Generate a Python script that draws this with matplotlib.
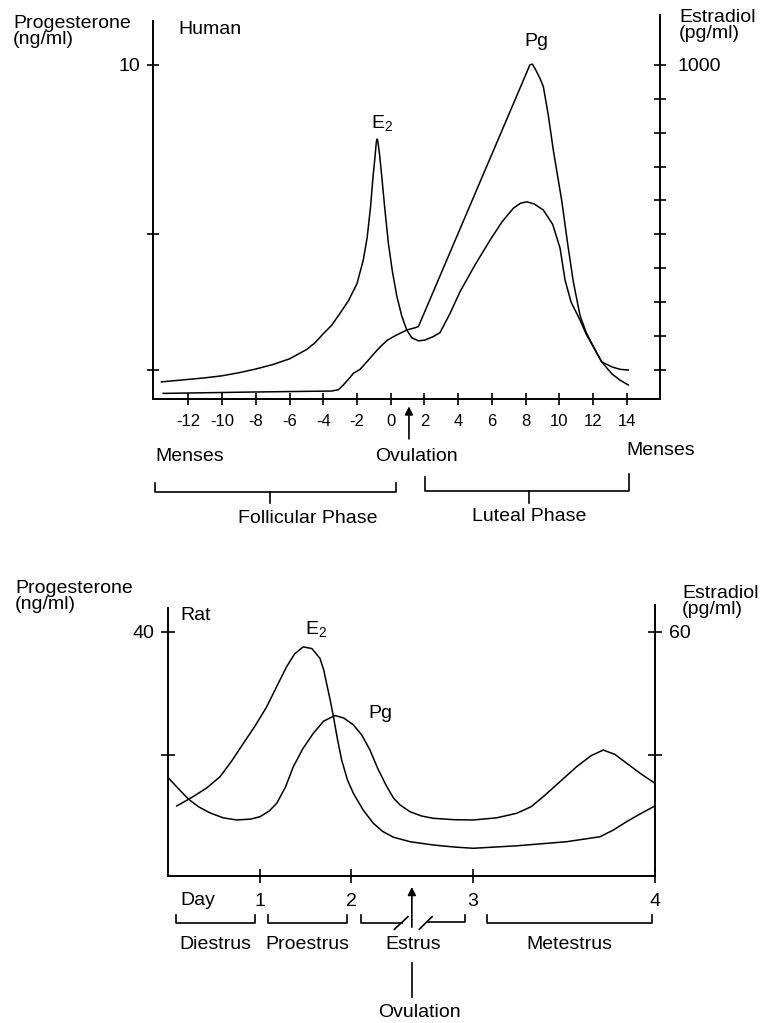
import numpy as np
import matplotlib
matplotlib.use('Agg')
import matplotlib.pyplot as plt

plt.rcParams['font.family'] = ['Liberation Sans', 'DejaVu Sans']
plt.rcParams['mathtext.default'] = 'regular'

# ---- Human cycle (day relative to LH peak) ----
human_e2_day = [-13.6, -12.5, -11, -10, -9, -8, -7, -6, -5, -4.5, -4, -3.5, -3.0, -2.5,
                -2.0, -1.63, -1.4, -1.2, -1.05, -0.93, -0.85, -0.8, -0.75, -0.65, -0.53,
                -0.35, -0.14, 0.1, 0.36, 0.65, 0.95, 1.25, 1.64, 2.0, 2.5, 2.92, 3.5,
                4.11, 5.0, 5.89, 6.6, 7.27, 7.7, 8.07, 8.5, 9.05, 9.6, 10.04, 10.34,
                10.7, 11.23, 11.6, 12.0, 12.51, 13.13, 13.6, 14.09]
human_e2 = [65, 70, 77, 83, 92, 103, 116, 133, 160, 180, 207, 232, 268, 305,
            355, 424, 490, 580, 670, 730, 775, 781, 770, 730, 670,
            575, 474, 390, 318, 260, 218, 195, 186, 188, 198, 210, 265,
            331, 410, 483, 537, 577, 592, 596, 590, 572, 530, 460, 365,
            300, 247, 205, 170, 124, 109, 102, 100]          # pg/ml

human_pg_day = [-13.5, -8.3, -3.5, -3.1, -2.81, -2.5, -2.22, -1.82, -1.4, -1.0, -0.63,
                -0.2, 0.3, 0.95, 1.4, 1.64, 8.0, 8.25, 8.4, 8.6, 8.85, 9.05, 9.35, 9.64,
                10.14, 10.5, 10.83, 11.23, 11.6, 12.02, 12.51, 13.13, 13.6, 14.09]
human_pg = [0.31, 0.35, 0.38, 0.42, 0.56, 0.73, 0.90, 1.02, 1.25, 1.48, 1.68,
            1.88, 2.02, 2.18, 2.24, 2.28, 9.7, 10.0, 10.02, 9.85, 9.6, 9.36, 8.5, 7.49,
            6.0, 4.7, 3.6, 2.6, 2.1, 1.69, 1.24, 0.88, 0.7, 0.56]  # ng/ml

human_days = list(range(-12, 15, 2))
e2_ticks_h = list(range(100, 1001, 100))
pg_ticks_h = [1, 5, 10]

# ---- Rat cycle (days) ----
rat_pg_day = [0.0, 0.1, 0.218, 0.33, 0.455, 0.6, 0.746, 0.9, 1.0, 1.1, 1.184, 1.28, 1.366,
              1.47, 1.585, 1.7, 1.824, 1.92, 2.019, 2.09, 2.156, 2.22, 2.293, 2.35, 2.403,
              2.485, 2.58, 2.676, 2.85, 3.003, 3.13, 3.241, 3.32, 3.387, 3.48, 3.57, 3.65,
              3.716, 3.78, 3.845, 3.92, 4.0]
rat_pg = [16.3, 14.7, 12.86, 11.6, 10.6, 9.8, 9.46, 9.6, 9.99, 10.9, 12.17, 14.8, 18.1,
          21.0, 23.5, 25.5, 26.4, 26.0, 24.9, 23.2, 20.8, 17.8, 14.9, 13.0, 11.9,
          10.8, 10.1, 9.73, 9.5, 9.46, 9.8, 10.54, 11.6, 13.24, 15.7, 18.1, 19.9,
          20.8, 20.1, 18.65, 17.0, 15.4]  # ng/ml

rat_e2_day = [0.092, 0.18, 0.273, 0.42, 0.564, 0.69, 0.818, 0.95, 1.073, 1.18, 1.293, 1.38,
              1.475, 1.57, 1.659, 1.70, 1.732, 1.77, 1.804, 1.85, 1.897, 1.96, 2.019, 2.1,
              2.183, 2.26, 2.348, 2.485, 2.676, 2.85, 3.003, 3.241, 3.515, 3.698, 3.77,
              3.845, 3.92, 4.0]
rat_e2 = [17.6, 18.7, 19.9, 22.0, 24.7, 28.5, 32.8, 37.2, 41.7, 46.5, 51.5, 54.6,
          56.3, 55.9, 53.5, 50.7, 47.4, 43.5, 39.7, 34.0, 28.8, 24.0, 20.7, 16.6,
          13.4, 11.4, 10.0, 8.9, 8.1, 7.6, 7.3, 7.9, 8.9, 10.1, 11.7,
          13.8, 15.7, 17.6]  # pg/ml

rat_days = [1, 2, 3, 4]
rat_stages = ['Diestrus', 'Proestrus', 'Estrus', 'Metestrus']
rat_stage_span = [(0.08, 0.945), (1.086, 1.956), (2.085, 2.937), (3.076, 3.986)]

W, H = 761, 1023
fig = plt.figure(figsize=(W / 100, H / 100), dpi=100)


def fxy(x, y):
    return x / W, 1 - y / H


LW = 1.1
FS = 14

# ================= Human panel =================
ax = fig.add_axes([153 / W, 1 - 399 / H, 507 / W, 384 / H])
ax.set_xlim(-14.1, 15.97)
ax.set_ylim(0.145, 11.47)
ax.plot(human_pg_day, human_pg, color='black', lw=LW)
ax.spines['top'].set_visible(False)
ax.spines['right'].set_visible(False)
ax.spines['left'].set_bounds(0.145, 11.3)
for s in ['left', 'bottom']:
    ax.spines[s].set_linewidth(1.4)
ax.set_xticks(human_days)
ax.set_xticklabels([str(d) for d in human_days])
ax.set_yticks(pg_ticks_h)
ax.set_yticklabels(['', '', '10'])
ax.tick_params(axis='x', direction='inout', length=9, width=1.2, labelsize=12, pad=6)
ax.tick_params(axis='y', direction='inout', length=9, width=1.2, labelsize=FS, pad=5)

ax2 = ax.twinx()
ax2.set_ylim(14.5, 1147)
ax2.plot(human_e2_day, human_e2, color='black', lw=LW)
for s in ['left', 'top', 'bottom']:
    ax2.spines[s].set_visible(False)
ax2.spines['right'].set_linewidth(1.4)
ax2.set_yticks(e2_ticks_h)
ax2.set_yticklabels([''] * 9 + ['1000'])
ax2.tick_params(axis='y', direction='inout', length=9, width=1.2, labelsize=FS, pad=8)

tr = ax.get_xaxis_transform()
kw = dict(color='black', lw=1.2, transform=tr, clip_on=False)
ax.text(-13.98, -0.150, 'Menses', transform=tr, ha='left', va='center', fontsize=FS)
ax.text(1.54, -0.150, 'Ovulation', transform=tr, ha='center', va='center', fontsize=FS)
ax.text(13.99, -0.133, 'Menses', transform=tr, ha='left', va='center', fontsize=FS)
ax.annotate('', xy=(1.08, -0.012), xytext=(1.08, -0.111),
            xycoords=tr, textcoords=tr,
            arrowprops=dict(arrowstyle='-|>', lw=1.2, color='black', mutation_scale=12))
# follicular bracket
ax.plot([-13.98, -13.98, 0.31, 0.31], [-0.2195, -0.2414, -0.2414, -0.2195], **kw)
ax.plot([-7.16, -7.16], [-0.2414, -0.2716], **kw)
ax.text(-4.9, -0.3107, 'Follicular Phase', transform=tr, ha='center', va='center', fontsize=FS)
# luteal bracket
ax.plot([2.03, 2.03, 14.13, 14.13], [-0.2023, -0.2396, -0.2396, -0.196], **kw)
ax.plot([8.2, 8.2], [-0.2396, -0.2716], **kw)
ax.text(8.2, -0.3065, 'Luteal Phase', transform=tr, ha='center', va='center', fontsize=FS)

fig.text(*fxy(13, 15), 'Progesterone\n(ng/ml)', ha='left', va='top', fontsize=FS, linespacing=0.9)
fig.text(*fxy(178, 29), 'Human', ha='left', va='center', fontsize=FS)
fig.text(*fxy(679, 9), 'Estradiol\n(pg/ml)', ha='left', va='top', fontsize=FS, linespacing=0.9)
fig.text(*fxy(536, 42), 'Pg', ha='center', va='center', fontsize=FS)
fig.text(*fxy(371, 128), r'$E_2$', ha='left', va='baseline', fontsize=FS)

# ================= Rat panel =================
stage_px = [0, 91.7, 182.7, 304.4, 486.7]   # axis stretched for later days
stage_day = [0, 1, 2, 3, 4]


def fwd(d):
    return np.interp(d, stage_day, stage_px)


def inv(p):
    return np.interp(p, stage_px, stage_day)


bx = fig.add_axes([168.3 / W, 1 - 876 / H, 486.7 / W, 271 / H])
bx.set_xscale('function', functions=(fwd, inv))
bx.set_xlim(0, 4)
bx.set_ylim(0.37, 44.33)
bx.plot(rat_pg_day, rat_pg, color='black', lw=LW)
bx.spines['top'].set_visible(False)
bx.spines['right'].set_visible(False)
bx.spines['left'].set_bounds(0.37, 43.85)
for s in ['left', 'bottom']:
    bx.spines[s].set_linewidth(1.4)
bx.set_xticks(rat_days)
bx.set_xticklabels([str(d) for d in rat_days])
bx.xaxis.set_minor_locator(matplotlib.ticker.NullLocator())
bx.set_yticks([20, 40])
bx.set_yticklabels(['', '40'])
bx.tick_params(axis='x', direction='inout', length=10, width=1.2, labelsize=FS, pad=7)
bx.tick_params(axis='y', direction='inout', length=10, width=1.2, labelsize=FS, pad=5)

bx2 = bx.twinx()
bx2.set_ylim(0.37 * 1.5, 44.33 * 1.5)
bx2.plot(rat_e2_day, rat_e2, color='black', lw=LW)
for s in ['left', 'top', 'bottom']:
    bx2.spines[s].set_visible(False)
bx2.spines['right'].set_linewidth(1.4)
bx2.set_yticks([30, 60])
bx2.set_yticklabels(['', '60'])
bx2.tick_params(axis='y', direction='inout', length=10, width=1.2, labelsize=FS, pad=5)

tr = bx.get_xaxis_transform()
kw = dict(color='black', lw=1.2, transform=tr, clip_on=False)
bx.text(0.32, -0.0886, 'Day', transform=tr, ha='center', va='center', fontsize=FS)
for (a, b), name in zip(rat_stage_span, rat_stages):
    if name == 'Estrus':
        bx.plot([a, a, 2.42], [-0.1439, -0.1723, -0.1723], **kw)
        bx.plot([2.63, b, b], [-0.1686, -0.1686, -0.1439], **kw)
        bx.plot([2.356, 2.468], [-0.1967, -0.1502], **kw)
        bx.plot([2.561, 2.666], [-0.1967, -0.1502], **kw)
    else:
        bx.plot([a, a, b, b], [-0.1439, -0.1723, -0.1723, -0.1439], **kw)
    bx.text(inv(np.mean(fwd(np.array([a, b])))), -0.251, name, transform=tr,
            ha='center', va='center', fontsize=FS)
bx.annotate('', xy=(2.5, -0.030), xytext=(2.5, -0.199), xycoords=tr, textcoords=tr,
            arrowprops=dict(arrowstyle='-|>', lw=1.2, color='black', mutation_scale=12))
bx.plot([2.5, 2.5], [-0.321, -0.4465], **kw)
bx.text(2.566, -0.502, 'Ovulation', transform=tr, ha='center', va='center', fontsize=FS)

fig.text(*fxy(15, 580), 'Progesterone\n(ng/ml)', ha='left', va='top', fontsize=FS, linespacing=0.9)
fig.text(*fxy(180, 615), 'Rat', ha='left', va='center', fontsize=FS)
fig.text(*fxy(682, 585), 'Estradiol\n(pg/ml)', ha='left', va='top', fontsize=FS, linespacing=0.9)
fig.text(*fxy(305, 634), r'$E_2$', ha='left', va='baseline', fontsize=FS)
fig.text(*fxy(368, 713), 'Pg', ha='left', va='center', fontsize=FS)

fig.savefig('out.png', dpi=100, facecolor='white')
